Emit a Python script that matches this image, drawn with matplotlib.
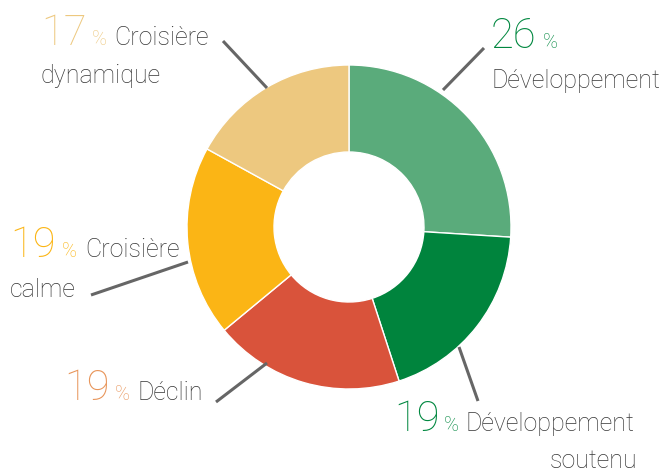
import matplotlib.pyplot as plt

plt.rcParams['font.family'] = ['Roboto', 'DejaVu Sans']

# slices, clockwise from the top
shares = [26, 19, 19, 19, 17]
names = ['Développement', 'Développement\nsoutenu', 'Déclin',
         'Croisière\ncalme', 'Croisière\ndynamique']
slice_colors = ['#5aab7b', '#00843d', '#d9533b', '#fbb515', '#edc87f']
number_colors = ['#00873f', '#00873f', '#e8955a', '#fbb515', '#edc87f']

W, H = 664, 474
fig = plt.figure(figsize=(W / 100, H / 100), dpi=100)
ax = fig.add_axes([0, 0, 1, 1])

cx, cy = 349, H - 227
ax.pie(shares, colors=slice_colors, startangle=90, counterclock=False,
       center=(cx, cy), radius=162,
       wedgeprops=dict(width=87, edgecolor='white', linewidth=1))
ax.set_xlim(0, W)
ax.set_ylim(0, H)
ax.set_aspect('equal')
ax.axis('off')

txt = '#363636'
line_kw = dict(color='#666666', lw=2.2, solid_capstyle='butt')


def leader(x0, y0, x1, y1):
    ax.plot([x0, x1], [H - y0, H - y1], **line_kw)


def put(x, y, s, size, color, ha='left', weight='light'):
    ax.text(x, H - y, s, fontsize=size, color=color, ha=ha, va='baseline',
            fontweight=weight)


# Développement (26)
leader(443, 90, 484, 48)
put(491, 48, f'{shares[0]}', 30, number_colors[0])
put(543, 48, '%', 14.5, number_colors[0])
put(491, 88, 'Développement', 18, txt)

# Développement soutenu
leader(459, 347, 478, 401)
put(394, 431, f'{shares[1]}', 30, number_colors[1])
put(444, 431, '%', 14.5, number_colors[1])
put(466, 431, 'Développement', 18, txt)
put(637, 468, 'soutenu', 18, txt, ha='right')

# Déclin
leader(216, 402, 267, 363)
put(64, 400, f'{shares[2]}', 30, number_colors[2])
put(115, 400, '%', 14.5, number_colors[2])
put(137, 400, 'Déclin', 18, txt)

# Croisière calme
leader(91, 295, 188, 262)
put(10, 257, f'{shares[3]}', 30, number_colors[3])
put(62, 257, '%', 14.5, number_colors[3])
put(85, 257, 'Croisière', 18, txt)
put(10, 297, 'calme', 18, txt)

# Croisière dynamique
leader(223, 41, 267, 88)
put(41, 45, f'{shares[4]}', 30, number_colors[4])
put(92, 45, '%', 14.5, number_colors[4])
put(114, 45, 'Croisière', 18, txt)
put(40, 83, 'dynamique', 18, txt)

fig.savefig('out.png', dpi=100)
